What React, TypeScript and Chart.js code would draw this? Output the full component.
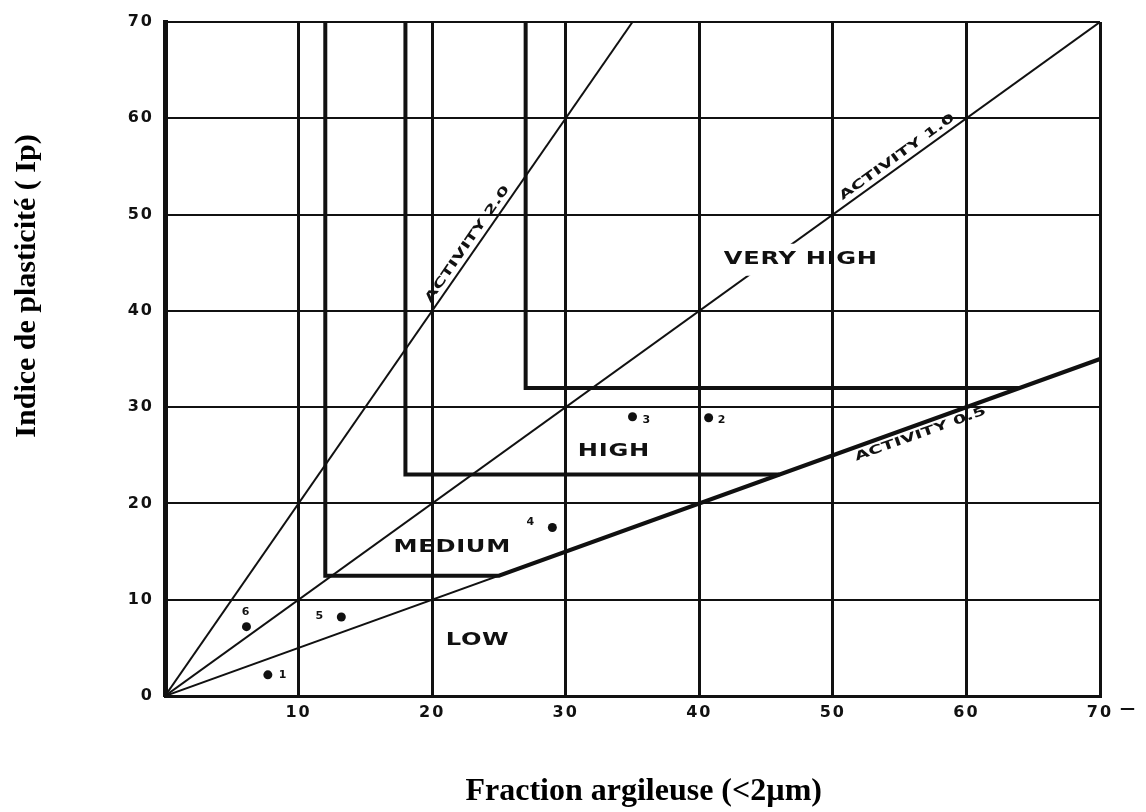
import { useEffect, useRef } from "react";
import { Chart, registerables } from "chart.js";

Chart.register(...registerables);

// Axis ticks (%)
const clayTicks = [0, 10, 20, 30, 40, 50, 60, 70];
const plasticityTicks = [0, 10, 20, 30, 40, 50, 60, 70];

// Activity reference lines: Ip = A x clay fraction
const activityTwoX = [0, 35];
const activityTwoY = [0, 70];
const activityOneX = [0, 70];
const activityOneY = [0, 70];
const activityHalfX = [0, 70];
const activityHalfY = [0, 35];

const activityNames = ["ACTIVITY 2.0", "ACTIVITY 1.0", "ACTIVITY 0.5"];
const activitySlopes = [2.0, 1.0, 0.5];
const activityLabelClay = [23.2, 55.2, 56.3];

// Swelling-potential zone boundaries
const mediumBoundaryX = [12, 12, 25, 70];
const mediumBoundaryY = [70, 12.5, 12.5, 35];
const highBoundaryX = [18, 18, 46];
const highBoundaryY = [70, 23, 23];
const veryHighBoundaryX = [27, 27, 64];
const veryHighBoundaryY = [70, 32, 32];

const zoneNames = ["LOW", "MEDIUM", "HIGH", "VERY HIGH"];
const zoneClay = [23.4, 21.5, 33.6, 47.6];
const zonePlasticity = [5.8, 15.4, 25.4, 45.3];

// Tested samples
const sampleIds = ["1", "2", "3", "4", "5", "6"];
const sampleClay = [7.7, 40.7, 35.0, 29.0, 13.2, 6.1];
const samplePlasticity = [2.2, 28.9, 29.0, 17.5, 8.2, 7.2];

const INK = "#111111";
const W = 1146;
const H = 812;

const pts = (xs: number[], ys: number[]) => xs.map((x, i) => ({ x, y: ys[i] }));

const zoneFont = "bold 17px 'DejaVu Sans'";
const zoneStretch = 1.42;
const zoneSpacing = "0.5px";

function zoneBox(chart: any, i: number) {
  const ctx = chart.ctx;
  ctx.save();
  ctx.font = zoneFont;
  (ctx as any).letterSpacing = zoneSpacing;
  const w = ctx.measureText(zoneNames[i]).width * zoneStretch;
  ctx.restore();
  const cx = chart.scales.x.getPixelForValue(zoneClay[i]);
  const cy = chart.scales.y.getPixelForValue(zonePlasticity[i]);
  return { cx, cy, w, h: 14 };
}

function stretchedText(ctx: CanvasRenderingContext2D, text: string, x: number, y: number, sx: number) {
  ctx.save();
  ctx.translate(x, y);
  ctx.scale(sx, 1);
  ctx.fillText(text, 0, 0);
  ctx.restore();
}

// Tick labels in a slightly spaced lettering
const tickSpacing = {
  id: "tickSpacing",
  beforeDraw(chart: any) {
    (chart.ctx as any).letterSpacing = "2px";
  },
  afterDraw(chart: any) {
    (chart.ctx as any).letterSpacing = "0px";
  },
};

// The "VERY HIGH" caption interrupts the activity 1.0 line
const lineGap = {
  id: "lineGap",
  beforeDatasetDraw(chart: any, args: any) {
    if (args.index !== 1) return;
    const b = zoneBox(chart, 3);
    const ctx = chart.ctx;
    ctx.save();
    ctx.beginPath();
    ctx.rect(0, 0, W, H);
    ctx.rect(b.cx - b.w / 2 - 6, b.cy - b.h / 2 - 9, b.w + 12, b.h + 18);
    ctx.clip("evenodd");
  },
  afterDatasetDraw(chart: any, args: any) {
    if (args.index !== 1) return;
    chart.ctx.restore();
  },
};

const captions = {
  id: "captions",
  afterDatasetsDraw(chart: any) {
    const ctx: CanvasRenderingContext2D = chart.ctx;
    const xs = chart.scales.x;
    const ys = chart.scales.y;
    ctx.save();
    ctx.fillStyle = INK;

    // zone names
    ctx.font = zoneFont;
    (ctx as any).letterSpacing = zoneSpacing;
    ctx.textAlign = "center";
    ctx.textBaseline = "middle";
    zoneNames.forEach((name, i) => {
      const b = zoneBox(chart, i);
      stretchedText(ctx, name, b.cx, b.cy, zoneStretch);
    });

    // activity names along their lines
    ctx.font = "bold 12px 'DejaVu Sans'";
    (ctx as any).letterSpacing = "0px";
    activityNames.forEach((name, i) => {
      const c = activityLabelClay[i];
      const p0x = xs.getPixelForValue(0);
      const p0y = ys.getPixelForValue(0);
      const px = xs.getPixelForValue(c);
      const py = ys.getPixelForValue(activitySlopes[i] * c);
      const ang = Math.atan2(py - p0y, px - p0x);
      ctx.save();
      ctx.translate(px, py);
      ctx.rotate(ang);
      ctx.textAlign = "center";
      ctx.scale(1.6, 1);
      if (i < 2) {
        ctx.textBaseline = "bottom";
        ctx.fillText(name, 0, -3);
      } else {
        ctx.textBaseline = "top";
        ctx.fillText(name, 0, 4);
      }
      ctx.restore();
    });

    // dash trailing the last clay tick
    ctx.font = "bold 15px 'DejaVu Sans'";
    ctx.textAlign = "left";
    ctx.textBaseline = "middle";
    ctx.fillText("\u2014", xs.getPixelForValue(70) + 20, ys.getPixelForValue(0) + 13);

    // sample numbers
    const offsets = [
      [11, 0, "left"],
      [9, 2, "left"],
      [10, 3, "left"],
      [-22, -5, "center"],
      [-22, -1, "center"],
      [-1, -15, "center"],
    ];
    ctx.font = "bold 11px 'DejaVu Sans'";
    ctx.textBaseline = "middle";
    sampleIds.forEach((id, i) => {
      const px = xs.getPixelForValue(sampleClay[i]);
      const py = ys.getPixelForValue(samplePlasticity[i]);
      const o = offsets[i];
      ctx.textAlign = o[2] as CanvasTextAlign;
      ctx.fillText(id, px + (o[0] as number), py + (o[1] as number));
    });
    ctx.restore();
  },
  afterDraw(chart: any) {
    const ctx: CanvasRenderingContext2D = chart.ctx;
    const area = chart.chartArea;
    ctx.save();
    (ctx as any).letterSpacing = "0px";
    ctx.fillStyle = "#000";
    ctx.textAlign = "center";
    ctx.textBaseline = "middle";
    ctx.font = "bold 32px 'Liberation Serif'";
    ctx.fillText("Fraction argileuse (<2\u00b5m)", area.left + (area.right - area.left) * 0.512, 792);
    ctx.font = "bold 30px 'Liberation Serif'";
    ctx.translate(27, 286);
    ctx.rotate(-Math.PI / 2);
    ctx.fillText("Indice de plasticit\u00e9 ( Ip)", 0, 0);
    ctx.restore();
  },
};

export default function App() {
  const ref = useRef<HTMLCanvasElement | null>(null);

  useEffect(() => {
    if (!ref.current) return;
    const boundary = (xs: number[], ys: number[]) => ({
      data: pts(xs, ys),
      showLine: true,
      borderColor: INK,
      borderWidth: 4,
      pointRadius: 0,
      borderJoinStyle: "miter" as const,
    });
    const thin = (xs: number[], ys: number[]) => ({
      data: pts(xs, ys),
      showLine: true,
      borderColor: INK,
      borderWidth: 2,
      pointRadius: 0,
    });

    const chart = new Chart(ref.current, {
      type: "scatter",
      data: {
        datasets: [
          thin(activityTwoX, activityTwoY),
          thin(activityOneX, activityOneY),
          thin(activityHalfX, activityHalfY),
          boundary(mediumBoundaryX, mediumBoundaryY),
          boundary(highBoundaryX, highBoundaryY),
          boundary(veryHighBoundaryX, veryHighBoundaryY),
          {
            data: pts(sampleClay, samplePlasticity),
            showLine: false,
            pointRadius: 4.5,
            pointBackgroundColor: INK,
            pointBorderColor: INK,
            pointBorderWidth: 0,
          },
        ],
      },
      options: {
        responsive: false,
        animation: false,
        devicePixelRatio: 1,
        layout: { padding: { left: 0, top: 22, right: 46, bottom: 0 } },
        plugins: {
          legend: { display: false },
          tooltip: { enabled: false },
        },
        scales: {
          x: {
            type: "linear",
            min: 0,
            max: 70,
            afterBuildTicks: (s: any) => {
              s.ticks = clayTicks.map((v) => ({ value: v }));
            },
            afterFit: (s: any) => {
              s.height = 116;
            },
            ticks: {
              color: INK,
              padding: 7,
              font: { family: "'DejaVu Sans'", size: 16, weight: "bold" },
              callback: (v: any) => (v === 0 ? "" : String(v)),
            },
            grid: { color: INK, lineWidth: 3, drawTicks: false },
            border: { display: true, color: INK, width: 3 },
          },
          y: {
            type: "linear",
            min: 0,
            max: 70,
            afterBuildTicks: (s: any) => {
              s.ticks = plasticityTicks.map((v) => ({ value: v }));
            },
            afterFit: (s: any) => {
              s.width = 165;
            },
            ticks: {
              color: INK,
              padding: 11,
              font: { family: "'DejaVu Sans'", size: 16, weight: "bold" },
              callback: (v: any) => String(v),
            },
            grid: { color: INK, lineWidth: 2, drawTicks: false },
            border: { display: true, color: INK, width: 5 },
          },
        },
      },
      plugins: [tickSpacing, lineGap, captions],
    });
    return () => chart.destroy();
  }, []);

  return (
    <div style={{ position: "absolute", left: 0, top: 0, width: W, height: H, background: "#fff" }}>
      <canvas ref={ref} width={W} height={H} style={{ display: "block" }} />
    </div>
  );
}
